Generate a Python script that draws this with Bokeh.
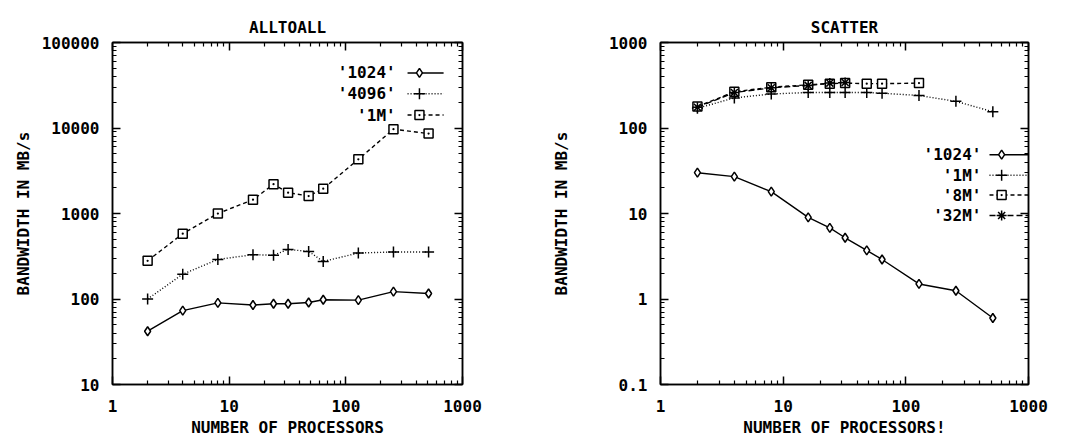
from bokeh.plotting import figure
from bokeh.layouts import row
from bokeh.models import (Range1d, LinearScale, LogAxis, FixedTicker,
                          CustomJSTickFormatter, ColumnDataSource)
from bokeh.core.properties import value
from bokeh.embed import file_html
from bokeh.resources import INLINE

FONT = "DejaVu Sans Mono"
FS = "16px"

# ---------------- data ----------------
procs = [2, 4, 8, 16, 24, 32, 48, 64, 128, 256, 512]

alltoall_1024 = [42, 73, 90, 85, 88, 88, 91, 98, 97, 122, 116]
alltoall_4096 = [100, 195, 290, 330, 325, 380, 360, 275, 345, 355, 355]
alltoall_1M = [280, 580, 1000, 1450, 2200, 1750, 1600, 1950, 4300, 9700, 8600]

scatter_1024 = [30, 27, 18, 9.0, 6.8, 5.2, 3.7, 2.9, 1.5, 1.25, 0.6]
scatter_1M = [170, 225, 250, 260, 260, 260, 260, 255, 240, 205, 155]
procs_8M = [2, 4, 8, 16, 24, 32, 48, 64, 128]
scatter_8M = [178, 265, 300, 320, 330, 335, 330, 330, 335]
procs_32M = [2, 4, 8, 16, 24, 32]
scatter_32M = [175, 260, 295, 315, 335, 340]

x_ticks = [1, 10, 100, 1000]
alltoall_y_ticks = [10, 100, 1000, 10000, 100000]
scatter_y_ticks = [0.1, 1, 10, 100, 1000]


def minor_of(ticks):
    out = []
    for t in ticks[:-1]:
        for m in range(2, 10):
            out.append(t * m)
    return out


def style_axis(ax, ticks, show_labels=True):
    ax.ticker = FixedTicker(ticks=ticks, minor_ticks=minor_of(ticks))
    ax.major_tick_in = 8
    ax.major_tick_out = 0
    ax.minor_tick_in = 4
    ax.minor_tick_out = 0
    ax.major_tick_line_width = 1.5
    ax.minor_tick_line_width = 1.2
    ax.axis_line_width = 1.5
    ax.axis_line_color = "black"
    ax.major_tick_line_color = "black"
    ax.minor_tick_line_color = "black"
    if show_labels:
        ax.formatter = CustomJSTickFormatter(
            code="return String(Number(tick.toPrecision(6)));")
        ax.major_label_text_font = FONT
        ax.major_label_text_font_size = FS
        ax.major_label_text_font_style = "bold"
        ax.major_label_text_color = "black"
        ax.axis_label_text_font = FONT
        ax.axis_label_text_font_size = FS
        ax.axis_label_text_font_style = "bold"
        ax.axis_label_text_color = "black"
    else:
        ax.formatter = CustomJSTickFormatter(code="return '';")
        ax.major_label_text_font_size = "1px"
        ax.major_label_standoff = 0


def make_fig(title, width, y_range, y_ticks, xlabel, ylabel, borders,
             series, legend_pos, ylabel_standoff):
    bl, br, bt, bb = borders
    p = figure(width=width, height=439, x_axis_type="log", y_axis_type="log",
               x_range=Range1d(1, 1000), y_range=Range1d(*y_range),
               output_backend="svg", toolbar_location=None,
               min_border_left=bl, min_border_right=br,
               min_border_top=bt, min_border_bottom=bb)
    p.title.text = title
    p.title.align = "center"
    p.title.text_font = FONT
    p.title.text_font_size = FS
    p.title.text_font_style = "bold"
    p.title.text_color = "black"
    p.title.standoff = 12
    p.xgrid.visible = False
    p.ygrid.visible = False
    p.outline_line_color = "black"
    p.outline_line_width = 1.5
    p.background_fill_color = "white"
    p.border_fill_color = "white"

    style_axis(p.xaxis[0], x_ticks)
    style_axis(p.yaxis[0], y_ticks)
    p.xaxis[0].major_label_standoff = 15
    p.xaxis[0].axis_label = xlabel
    p.xaxis[0].axis_label_standoff = 3
    p.yaxis[0].major_label_standoff = 13
    p.yaxis[0].axis_label = ylabel
    p.yaxis[0].axis_label_standoff = ylabel_standoff

    top = LogAxis()
    style_axis(top, x_ticks, show_labels=False)
    p.add_layout(top, "above")
    right = LogAxis()
    style_axis(right, y_ticks, show_labels=False)
    p.add_layout(right, "right")

    # frame-fraction coordinates for the legend keys
    p.extra_x_ranges = {"leg": Range1d(0, 1)}
    p.extra_y_ranges = {"leg": Range1d(0, 1)}
    p.extra_x_scales = {"leg": LinearScale()}
    p.extra_y_scales = {"leg": LinearScale()}

    tx, lx0, lx1, mx, rows = legend_pos
    labels = []
    for i, (name, xs, ys, dash, marker, msize) in enumerate(series):
        p.line(xs, ys, line_color="black", line_width=1.4, line_dash=dash)
        p.scatter(xs, ys, marker=marker, size=msize, line_color="black",
                  fill_color="white", line_width=1.5)
        ry = rows[i]
        p.line([lx0, lx1], [ry, ry], line_color="black", line_width=1.4,
               line_dash=dash, x_range_name="leg", y_range_name="leg")
        p.scatter([mx], [ry], marker=marker, size=msize, line_color="black",
                  fill_color="white", line_width=1.5,
                  x_range_name="leg", y_range_name="leg")
        labels.append(name)
    src = ColumnDataSource(dict(x=[tx] * len(labels), y=rows[:len(labels)], t=labels))
    p.text(x="x", y="y", text="t", source=src, text_align="right",
           text_baseline="middle", text_font=value(FONT), text_font_size=FS,
           text_font_style="bold", text_color="black",
           x_range_name="leg", y_range_name="leg")
    return p


left_series = [
    ("'1024'", procs, alltoall_1024, "solid", "diamond", 9),
    ("'4096'", procs, alltoall_4096, "1 2", "cross", 11),
    ("'1M'", procs, alltoall_1M, "4 3", "square_dot", 9),
]
right_series = [
    ("'1024'", procs, scatter_1024, "solid", "diamond", 9),
    ("'1M'", procs, scatter_1M, "1 2", "cross", 11),
    ("'8M'", procs_8M, scatter_8M, "4 3", "square_dot", 9),
    ("'32M'", procs_32M, scatter_32M, "6 3", "asterisk", 10),
]

p1 = make_fig("ALLTOALL", 530, (10, 100000), alltoall_y_ticks,
              "NUMBER OF PROCESSORS", "BANDWIDTH IN MB/s",
              (112, 68, 40, 54), left_series,
              (0.809, 0.843, 0.946, 0.877, [0.911, 0.850, 0.788]), 6)
p2 = make_fig("SCATTER", 540, (0.1, 1000), scatter_y_ticks,
              "NUMBER OF PROCESSORS!", "BANDWIDTH IN MB/s",
              (130, 42, 42, 52), right_series,
              (0.872, 0.894, 1.0, 0.927, [0.672, 0.612, 0.554, 0.494]), 35)

layout = row(p1, p2)
open("out.html", "w").write(file_html(layout, INLINE))
